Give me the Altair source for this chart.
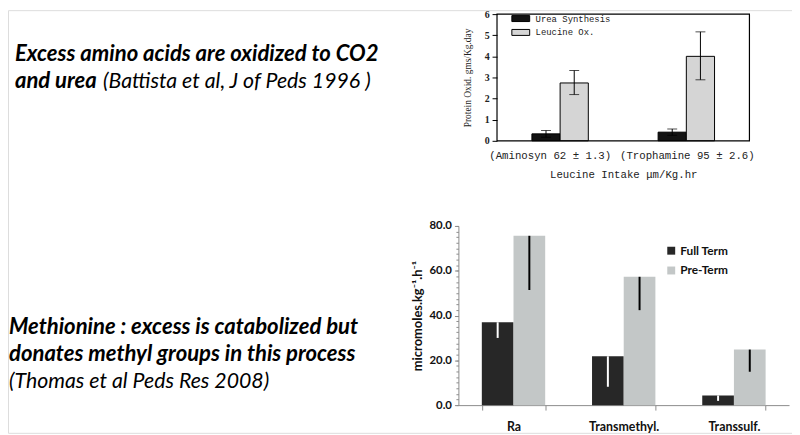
import altair as alt
import pandas as pd

# ---------------- data ----------------
top_groups = ["(Aminosyn 62 ± 1.3)", "(Trophamine 95 ± 2.6)"]
top_series = ["Urea Synthesis", "Leucine Ox."]
urea_mean = [0.33, 0.41]
urea_low = [0.17, 0.26]
urea_high = [0.49, 0.56]
leu_mean = [2.74, 4.00]
leu_low = [2.19, 2.89]
leu_high = [3.33, 5.16]
top_y_ticks = [0, 1, 2, 3, 4, 5, 6]

bot_cats = ["Ra", "Transmethyl.", "Transsulf."]
bot_series = ["Full Term", "Pre-Term"]
full_mean = [37.0, 21.8, 4.3]
full_low = [30.0, 8.2, 1.9]
pre_mean = [75.6, 57.3, 24.8]
pre_low = [51.4, 42.4, 14.9]
bot_y_ticks = [0, 20, 40, 60, 80]
bot_y_minor = [v / 2 for v in range(0, 161, 5)]

text_top_bold = ["Excess amino acids are oxidized to CO2", "and urea"]
text_top_ref = "(Battista et al, J of Peds 1996 )"
text_bot_bold = ["Methionine : excess is catabolized but", "donates methyl groups in this process"]
text_bot_ref = "(Thomas et al Peds Res 2008)"

W, H = 792, 427

top_df = pd.DataFrame({
    "group": top_groups * 2,
    "series": [s for s in top_series for _ in top_groups],
    "value": urea_mean + leu_mean,
    "low": urea_low + leu_low,
    "high": urea_high + leu_high,
})
bot_df = pd.DataFrame({
    "cat": bot_cats * 2,
    "series": [s for s in bot_series for _ in bot_cats],
    "value": full_mean + pre_mean,
    "low": full_low + pre_low,
})

# ---------------- top chart ----------------
t_xscale = alt.Scale(domain=top_groups, range=[494, 749], paddingInner=0.553, paddingOuter=0.2765)
t_xaxis = alt.Axis(orient="bottom", offset=132 - H, title="Leucine Intake μm/Kg.hr", labelAngle=0,
                   domain=False, ticks=False, labelFont="Liberation Mono", labelFontSize=10.8,
                   labelColor="#222", labelPadding=9, labelOverlap=False,
                   labelOffset={"condition": {"test": "datum.value == '(Aminosyn 62 ± 1.3)'", "value": -10},
                                "value": 1},
                   titleFont="Liberation Mono", titleFontSize=10.8, titleFontWeight="normal",
                   titleColor="#222", titlePadding=8)
t_yscale = alt.Scale(domain=[0, 6], range=[132, 4], nice=False, zero=False)
t_yaxis = alt.Axis(orient="left", offset=-494, values=top_y_ticks, format="d", tickSize=5,
                   tickColor="black", domain=False, grid=False, labelFont="Liberation Serif",
                   labelFontSize=10, labelFontWeight="bold", labelColor="#222", labelPadding=3,
                   title="Protein Oxid.  gms/Kg.day", titleFont="Liberation Serif",
                   titleFontSize=9.5, titleFontWeight="normal", titleColor="#222", titlePadding=12)
t_xo = alt.XOffset("series:N", sort=top_series,
                   scale=alt.Scale(domain=top_series, paddingInner=0, paddingOuter=0))

t_x = alt.X("group:N", sort=top_groups, scale=t_xscale, axis=t_xaxis)

top_bars = alt.Chart(top_df).mark_bar(stroke="black", strokeWidth=1).encode(
    x=t_x, xOffset=t_xo,
    y=alt.Y("value:Q", scale=t_yscale, axis=t_yaxis),
    color=alt.Color("series:N", sort=top_series,
                    scale=alt.Scale(domain=top_series, range=["#121212", "#d5d5d5"]),
                    legend=alt.Legend(orient="none", legendX=513, legendY=3.5, title=None,
                                      symbolType="M-2,-0.67H2V0.67H-2Z", symbolSize=81,
                                      symbolStrokeColor="black", symbolStrokeWidth=1,
                                      symbolOpacity=1, labelFont="Liberation Mono", labelFontSize=9,
                                      labelColor="#222", labelOffset=10, rowPadding=2, padding=0)),
)
top_rules = alt.Chart(top_df).mark_rule(color="black", strokeWidth=1).encode(
    x=t_x, xOffset=t_xo,
    y=alt.Y("low:Q", scale=t_yscale, axis=t_yaxis), y2="high:Q",
)
top_cap_hi = alt.Chart(top_df).mark_tick(color="black", size=10, thickness=1).encode(
    x=t_x, xOffset=t_xo, y=alt.Y("high:Q", scale=t_yscale, axis=t_yaxis),
)
top_cap_lo = alt.Chart(top_df).mark_tick(color="black", size=10, thickness=1).encode(
    x=t_x, xOffset=t_xo, y=alt.Y("low:Q", scale=t_yscale, axis=t_yaxis),
)
top_frame = alt.Chart(pd.DataFrame({"k": [0]})).mark_rect(fill=None, stroke="black", strokeWidth=1.2).encode(
    x=alt.value(494), x2=alt.value(749), y=alt.value(4), y2=alt.value(132),
)
top_chart = alt.layer(top_bars, top_rules, top_cap_hi, top_cap_lo, top_frame)

# ---------------- bottom chart ----------------
b_xscale = alt.Scale(domain=bot_cats, range=[455, 789], paddingInner=0.425, paddingOuter=0.2125)
b_xaxis = alt.Axis(orient="bottom", offset=399 - H, title=None, labelAngle=0,
                   domainColor="#8c8c8c", tickColor="#8c8c8c", tickSize=5, tickBand="extent",
                   labelFont="Lato", labelFontWeight="bold", labelFontSize=12.5, labelColor="#111",
                   labelPadding=11)
b_yscale = alt.Scale(domain=[0, 80], range=[399, 218], nice=False)
b_yaxis = alt.Axis(orient="left", offset=-455, values=bot_y_ticks, format=".1f", tickSize=4,
                   tickColor="#8c8c8c", domainColor="#8c8c8c", grid=False,
                   labelFont="Lato", labelFontWeight="bold", labelFontSize=11.5, labelColor="#111",
                   labelPadding=3, title="micromoles.kg⁻¹.h⁻¹", titleFont="Lato", titleFontSize=13,
                   titleFontWeight="bold", titleColor="#111", titlePadding=5)
b_yaxis_minor = alt.Axis(orient="left", offset=-455, values=bot_y_minor, labels=False, domain=False,
                         tickSize=2.5, tickColor="#8c8c8c", title=None, grid=False)
b_x = alt.X("cat:N", sort=bot_cats, scale=b_xscale, axis=b_xaxis)
b_xo = alt.XOffset("series:N", sort=bot_series,
                   scale=alt.Scale(domain=bot_series, paddingInner=0, paddingOuter=0))

bot_bars = alt.Chart(bot_df).mark_bar().encode(
    x=b_x, xOffset=b_xo,
    y=alt.Y("value:Q", scale=b_yscale, axis=b_yaxis),
    color=alt.Color("series:N", sort=bot_series,
                    scale=alt.Scale(domain=bot_series, range=["#272727", "#c3c7c7"]),
                    legend=alt.Legend(orient="none", legendX=664, legendY=237, title=None,
                                      symbolType="square", symbolSize=64, symbolOpacity=1,
                                      symbolStrokeWidth=0,
                                      labelFont="Lato", labelFontWeight="bold", labelFontSize=12,
                                      labelColor="#111", labelOffset=3, rowPadding=8, padding=0)),
)
bot_err = alt.Chart(bot_df).mark_rule(strokeWidth=2).encode(
    x=b_x, xOffset=b_xo,
    y=alt.Y("low:Q", scale=b_yscale, axis=b_yaxis_minor), y2="value:Q",
    stroke=alt.Stroke("series:N", sort=bot_series,
                      scale=alt.Scale(domain=bot_series, range=["white", "black"]), legend=None),
)
bot_chart = alt.layer(bot_bars, bot_err).resolve_axis(y="independent")

# ---------------- slide text ----------------
def txt(s, x, y, weight, size):
    return alt.Chart(pd.DataFrame({"t": [s]})).mark_text(
        align="left", baseline="alphabetic", font="Lato", fontStyle="italic",
        fontWeight=weight, fontSize=size, color="#000",
    ).encode(x=alt.value(x), y=alt.value(y), text="t:N")

texts = [
    txt(text_top_bold[0], 7, 51, "bold", 22.3),
    txt(text_top_bold[1], 7, 79, "bold", 22.3),
    txt(text_top_ref, 96, 79, "normal", 21.5),
    txt(text_bot_bold[0], 1, 327, "bold", 22.3),
    txt(text_bot_bold[1], 1, 354, "bold", 22.3),
    txt(text_bot_ref, 1, 382, "normal", 21.5),
]

chart = alt.layer(*texts, top_chart, bot_chart).resolve_scale(
    x="independent", y="independent", xOffset="independent", color="independent", stroke="independent"
).resolve_axis(x="independent", y="independent").resolve_legend(color="independent").properties(
    width=W, height=H, autosize=alt.AutoSizeParams(type="none"), padding=0,
).configure_view(strokeWidth=0, stroke="transparent").configure(background="white")

chart.save("out.html", embed_options={"renderer": "svg", "actions": False})
